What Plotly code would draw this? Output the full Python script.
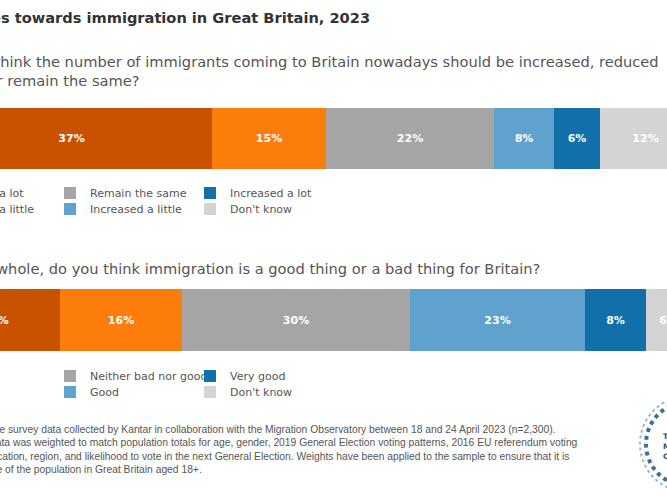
import plotly.graph_objects as go

W, H = 667, 500

# data
q1_labels = ['Reduced a lot', 'Reduced a little', 'Remain the same',
             'Increased a little', 'Increased a lot', "Don't know"]
q1_values = [37, 15, 22, 8, 6, 12]

q2_labels = ['Very bad', 'Bad', 'Neither bad nor good',
             'Good', 'Very good', "Don't know"]
q2_values = [17, 16, 30, 23, 8, 6]

colors = ['#c85200', '#fc7d0b', '#a5a5a5', '#5fa2ce', '#1170aa', '#d4d4d4']

title = 'Attitudes towards immigration in Great Britain, 2023'
q1_text = ('Do you think the number of immigrants coming to Britain nowadays should be increased, reduced'
           '<br>or rather remain the same?')
q2_text = 'On the whole, do you think immigration is a good thing or a bad thing for Britain?'
note_text = ('Source: Online survey data collected by Kantar in collaboration with the Migration Observatory between 18 and 24 April 2023 (n=2,300).'
             '<br>Notes: The data was weighted to match population totals for age, gender, 2019 General Election voting patterns, 2016 EU referendum voting'
             '<br>patterns, education, region, and likelihood to vote in the next General Election. Weights have been applied to the sample to ensure that it is'
             '<br>representative of the population in Great Britain aged 18+.')


def px(x):
    return x / W


def py(y):
    return 1 - y / H


font = 'DejaVu Sans'
grey = '#555555'

# legend layout: column 1 sits in its own legend, columns 2-3 share one
# (entries 0,2,4 on the first row, 1,3,5 on the second)
leg_names = [['legend2', 'legend3', 'legend4', 'legend5', 'legend4', 'legend5'],
             ['legend6', 'legend7', 'legend8', 'legend9', 'legend8', 'legend9']]

fig = go.Figure()

for q, (labels, values, yname) in enumerate([(q1_labels, q1_values, 'y'),
                                             (q2_labels, q2_values, 'y2')]):
    for i, (lab, val) in enumerate(zip(labels, values)):
        fig.add_trace(go.Bar(
            x=[val], y=[f'q{q + 1}'], orientation='h', name=lab,
            marker=dict(color=colors[i], line=dict(width=0)),
            text=[f'{val}%'], textposition='inside', insidetextanchor='middle',
            textfont=dict(color='white', size=11, family=font, weight='bold'),
            constraintext='none', width=1, hoverinfo='skip',
            legend=leg_names[q][i], xaxis='x', yaxis=yname))


def leg(xpix, ypix):
    return dict(orientation='h', x=px(xpix), xanchor='left', y=py(ypix), yanchor='middle',
                entrywidth=95, entrywidthmode='pixels', bgcolor='rgba(0,0,0,0)',
                font=dict(family=font, size=11, color=grey), traceorder='normal',
                itemclick=False, itemdoubleclick=False)


legends = {}
for q, rows in enumerate([(193, 209), (376, 392)]):
    for r, ypix in enumerate(rows):
        legends[leg_names[q][r]] = leg(-92, ypix)
        legends[leg_names[q][r + 2]] = leg(50, ypix)

annotations = [
    dict(text=f'<b>{title}</b>', x=px(-69), y=py(17), font=dict(family=font, size=14.6, color='#333333')),
    dict(text=q1_text, x=px(-64), y=py(71), font=dict(family=font, size=14.65, color=grey)),
    dict(text=q2_text, x=px(-60), y=py(268), font=dict(family=font, size=14.65, color=grey)),
    dict(text=note_text, x=px(-65), y=py(449), font=dict(family='Liberation Sans', size=10.3, color=grey)),
    dict(text='<b>THE<br>MIGRATION<br>OBSERVATORY</b>', x=px(661), y=py(446),
         font=dict(family=font, size=7.5, color='#2f4f6f')),
]
for a in annotations:
    a.update(xref='paper', yref='paper', xanchor='left', yanchor='middle',
             showarrow=False, align='left')

fig.update_layout(
    width=W, height=H, margin=dict(l=0, r=0, t=0, b=0, autoexpand=False),
    paper_bgcolor='white', plot_bgcolor='white',
    barmode='stack', bargap=0, showlegend=True,
    xaxis=dict(range=[9.1, 96.8], visible=False, fixedrange=True),
    yaxis=dict(domain=[py(169), py(108)], range=[-0.5, 0.5], visible=False, fixedrange=True),
    yaxis2=dict(domain=[py(351), py(289)], range=[-0.5, 0.5], visible=False, fixedrange=True),
    annotations=annotations,
    # logo ring, partly outside the page like in the source image
    shapes=[dict(type='circle', xref='paper', yref='paper',
                 x0=px(646), x1=px(730), y0=py(486), y1=py(402),
                 line=dict(color='#3f6f95', width=4, dash='dot')),
            dict(type='circle', xref='paper', yref='paper',
                 x0=px(640), x1=px(736), y0=py(492), y1=py(396),
                 line=dict(color='#9db7cc', width=2, dash='dot'))],
    font=dict(family=font),
    **legends,
)

fig.write_html('out.html', config={'displayModeBar': False},
               post_script="document.body.style.margin='0';document.body.style.overflow='hidden';")
